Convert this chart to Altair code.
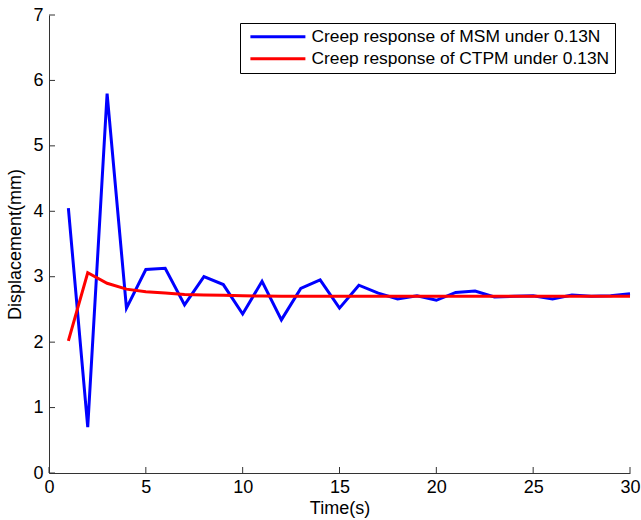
import altair as alt
import pandas as pd

time = list(range(1, 31))
msm = [4.05, 0.70, 5.80, 2.52, 3.11, 3.13, 2.57, 3.00, 2.88, 2.43,
       2.93, 2.34, 2.82, 2.95, 2.52, 2.87, 2.75, 2.66, 2.71, 2.64,
       2.76, 2.78, 2.69, 2.70, 2.71, 2.66, 2.72, 2.70, 2.71, 2.74]
ctpm = [2.02, 3.06, 2.90, 2.81, 2.77, 2.75, 2.73, 2.72, 2.715, 2.71,
        2.705, 2.70, 2.70, 2.70, 2.70, 2.70, 2.70, 2.70, 2.70, 2.70,
        2.70, 2.70, 2.70, 2.70, 2.70, 2.70, 2.70, 2.70, 2.70, 2.70]
series_names = ["Creep response of MSM under 0.13N", "Creep response of CTPM under 0.13N"]
series_colors = ["#0000FF", "#FF0000"]
x_ticks = [0, 5, 10, 15, 20, 25, 30]
y_ticks = [0, 1, 2, 3, 4, 5, 6, 7]

df = pd.concat([
    pd.DataFrame({"t": time, "v": msm, "s": series_names[0]}),
    pd.DataFrame({"t": time, "v": ctpm, "s": series_names[1]}),
])

FONT = "Liberation Sans"
W, H = 581, 458

xscale = alt.Scale(domain=[0, 30], nice=False)
yscale = alt.Scale(domain=[0, 7], nice=False)

lines = alt.Chart(df).mark_line(strokeWidth=3).encode(
    x=alt.X("t:Q", scale=xscale,
            axis=alt.Axis(title="Time(s)", values=x_ticks, ticks=False, grid=False,
                          labelFlush=False, labelPadding=5, titlePadding=3, format="d")),
    y=alt.Y("v:Q", scale=yscale,
            axis=alt.Axis(title="Displacement(mm)", values=y_ticks, ticks=False, grid=False,
                          labelFlush=False, labelPadding=6, titlePadding=8, format="d")),
    color=alt.Color("s:N", sort=series_names,
                    scale=alt.Scale(domain=series_names, range=series_colors),
                    legend=alt.Legend(title=None, orient="none", legendX=191, legendY=8,
                                      symbolType="M-0.6,0H9.4", symbolSize=121,
                                      symbolStrokeWidth=3, labelFontSize=17.4,
                                      labelFont=FONT, labelColor="black",
                                      strokeColor="black", fillColor="white",
                                      padding=5, rowPadding=3, labelOffset=49,
                                      labelLimit=400)),
    order=alt.Order("t:Q"),
)

xt = alt.Chart(pd.DataFrame({"t": x_ticks})).mark_rule(color="#333", strokeWidth=1).encode(
    x=alt.X("t:Q", scale=xscale), y=alt.value(H), y2=alt.value(H - 6))
yt = alt.Chart(pd.DataFrame({"v": y_ticks})).mark_rule(color="#333", strokeWidth=1).encode(
    y=alt.Y("v:Q", scale=yscale), x=alt.value(0), x2=alt.value(6))

chart = alt.layer(xt, yt, lines).properties(
    width=W, height=H,
    autosize="none",
    background="white",
    padding={"left": 49, "top": 15, "right": 11, "bottom": 47},
).configure_view(stroke=None).configure_axis(
    domainColor="#333", labelFont=FONT, titleFont=FONT, labelFontSize=18,
    titleFontSize=18, titleFontWeight="normal", labelColor="black", titleColor="black",
)

chart.save("out.html", embed_options={"renderer": "svg", "actions": False})
